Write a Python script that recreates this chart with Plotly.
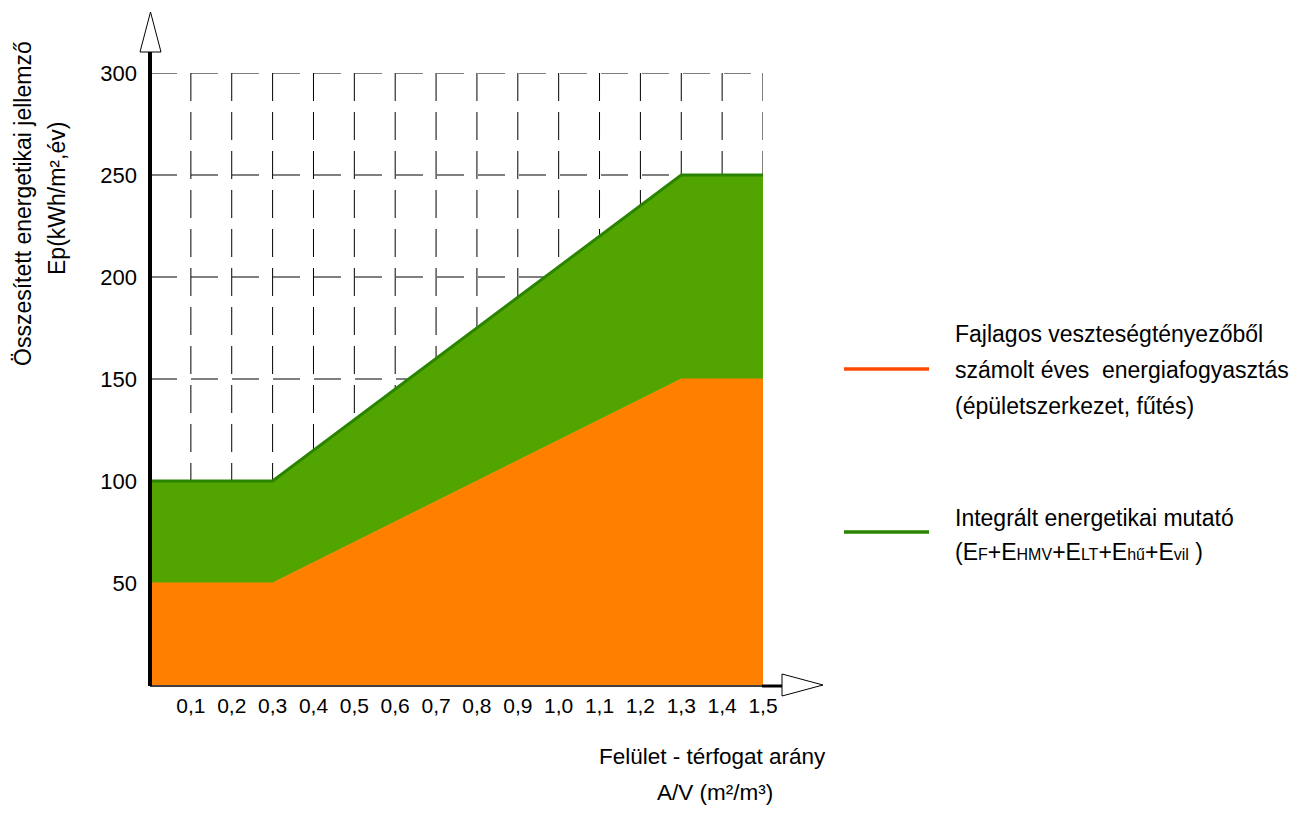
import plotly.graph_objects as go

# ---- data ----
av_ratio = [0, 0.3, 1.3, 1.5]
ep_heating = [50, 50, 150, 150]        # orange: épületszerkezet, fűtés
ep_integrated = [100, 100, 250, 250]   # green: integrált energetikai mutató

x_tick_vals = [0.1, 0.2, 0.3, 0.4, 0.5, 0.6, 0.7, 0.8, 0.9, 1.0, 1.1, 1.2, 1.3, 1.4, 1.5]
x_tick_text = ["0,1", "0,2", "0,3", "0,4", "0,5", "0,6", "0,7", "0,8", "0,9", "1,0",
               "1,1", "1,2", "1,3", "1,4", "1,5"]
y_tick_vals = [50, 100, 150, 200, 250, 300]
y_tick_text = ["50", "100", "150", "200", "250", "300"]

FONT = "Liberation Sans, Arial, sans-serif"
ORANGE = "#FF8000"
ORANGE_LINE = "#FF4A00"
GREEN = "#52A500"
GREEN_LINE = "#2A8400"

W, H = 1307, 817
L, R, T, B = 150, 544, 73, 132
PW, PH = W - L - R, H - T - B


def px(x):
    return (x - L) / PW


def py(y):
    return (H - B - y) / PH


fig = go.Figure()

fig.add_trace(go.Scatter(
    x=av_ratio, y=ep_heating, mode="lines", fill="tozeroy",
    fillcolor=ORANGE, line=dict(color=ORANGE, width=1), showlegend=False,
    hoverinfo="skip"))
fig.add_trace(go.Scatter(
    x=av_ratio, y=ep_integrated, mode="lines", fill="tonexty",
    fillcolor=GREEN, line=dict(color=GREEN_LINE, width=3), showlegend=False,
    hoverinfo="skip"))

shapes = []
# dashed grid (below the filled areas)
for xv in x_tick_vals:
    shapes.append(dict(type="line", xref="x", yref="y", x0=xv, x1=xv,
                       y0=max(y_tick_vals), y1=0, layer="below",
                       line=dict(color="black", width=1, dash="28px,11px")))
for yv in y_tick_vals:
    shapes.append(dict(type="line", xref="x", yref="y", x0=0, x1=max(x_tick_vals),
                       y0=yv, y1=yv, layer="below",
                       line=dict(color="black", width=1, dash="27px,14px")))

# axes with arrows
shapes.append(dict(type="line", xref="paper", yref="paper", x0=px(150), x1=px(150),
                   y0=py(686), y1=py(52), line=dict(color="black", width=4)))
shapes.append(dict(type="line", xref="paper", yref="paper", x0=px(150), x1=px(763),
                   y0=py(686), y1=py(686), line=dict(color="black", width=1.5)))
shapes.append(dict(type="line", xref="paper", yref="paper", x0=px(762), x1=px(783),
                   y0=py(686), y1=py(686), line=dict(color="black", width=3)))
shapes.append(dict(type="path", xref="paper", yref="paper",
                   path=f"M {px(140)},{py(52)} L {px(161)},{py(52)} L {px(150.5)},{py(12)} Z",
                   fillcolor="white", line=dict(color="black", width=1)))
shapes.append(dict(type="path", xref="paper", yref="paper",
                   path=f"M {px(782)},{py(674)} L {px(782)},{py(696)} L {px(823)},{py(685)} Z",
                   fillcolor="white", line=dict(color="black", width=1)))

# legend lines
shapes.append(dict(type="line", xref="paper", yref="paper", x0=px(844), x1=px(929),
                   y0=py(369), y1=py(369), line=dict(color=ORANGE_LINE, width=3.5)))
shapes.append(dict(type="line", xref="paper", yref="paper", x0=px(844), x1=px(929),
                   y0=py(532), y1=py(532), line=dict(color=GREEN_LINE, width=3.5)))

annotations = []


def text(t, x, y, size=23, xanchor="left", angle=0):
    annotations.append(dict(text=t, xref="paper", yref="paper", x=px(x), y=py(y),
                            xanchor=xanchor, yanchor="middle", showarrow=False,
                            textangle=angle,
                            font=dict(family=FONT, size=size, color="black")))


text("Fajlagos veszteségtényezőből", 953, 334)
text("számolt éves  energiafogyasztás", 953, 370)
text("(épületszerkezet, fűtés)", 953, 406)
small = "<span style='font-size:16px'>%s</span>"
text("Integrált energetikai mutató", 953, 518)
text("(E" + small % "F" + "+E" + small % "HMV" + "+E" + small % "LT" + "+E"
     + small % "hű" + "+E" + small % "vil" + " )", 953, 552)

text("Felület - térfogat arány", 712, 756, size=22.5, xanchor="center")
text("A/V (m²/m³)", 715, 792, size=22.5, xanchor="center")

text("Összesített energetikai jellemző", 23, 204, size=23, xanchor="center", angle=-90)
text("Ep(kWh/m²,év)", 57, 199, size=23, xanchor="center", angle=-90)

fig.update_layout(
    width=W, height=H,
    margin=dict(l=L, r=R, t=T, b=B, pad=0),
    paper_bgcolor="white", plot_bgcolor="white",
    shapes=shapes, annotations=annotations,
    font=dict(family=FONT, size=22, color="black"),
    xaxis=dict(range=[0, 1.5], tickvals=x_tick_vals, ticktext=x_tick_text,
               showgrid=False, zeroline=False, showline=False, ticks="",
               ticklabelstandoff=6, tickfont=dict(family=FONT, size=21),
               fixedrange=True),
    yaxis=dict(range=[0, 300], tickvals=y_tick_vals, ticktext=y_tick_text,
               showgrid=False, zeroline=False, showline=False, ticks="",
               ticklabelstandoff=12, tickfont=dict(family=FONT, size=22),
               fixedrange=True),
    showlegend=False,
)

fig.write_html("out.html")
